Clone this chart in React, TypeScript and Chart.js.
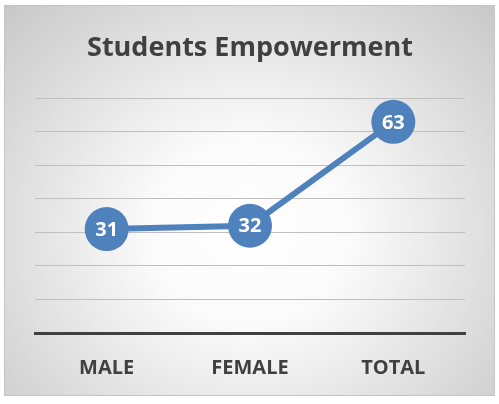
import React, { useEffect, useRef } from "react";
import { Chart, registerables } from "chart.js";

Chart.register(...registerables);

const categories = ["MALE", "FEMALE", "TOTAL"];
const values = [31, 32, 63];
const chartTitle = "Students Empowerment";

const labelPlugin = {
  id: "pointLabels",
  afterDatasetsDraw(chart: any) {
    const ctx = chart.ctx;
    const meta = chart.getDatasetMeta(0);
    ctx.save();
    ctx.fillStyle = "#ffffff";
    ctx.font = "bold 20px 'Open Sans'";
    ctx.textAlign = "center";
    ctx.textBaseline = "middle";
    meta.data.forEach((pt: any, i: number) => {
      ctx.fillText(String(values[i]), pt.x, pt.y + 1);
    });
    ctx.restore();
  },
};

export default function App() {
  const ref = useRef<HTMLCanvasElement>(null);
  useEffect(() => {
    const chart = new Chart(ref.current as HTMLCanvasElement, {
      type: "line",
      data: {
        labels: categories,
        datasets: [
          {
            data: values,
            borderColor: "#4F81BD",
            backgroundColor: "#4F81BD",
            borderWidth: 6,
            pointRadius: 22,
            pointHoverRadius: 22,
            pointBorderWidth: 0,
            pointBackgroundColor: "#4F81BD",
            tension: 0,
          },
        ],
      },
      plugins: [labelPlugin],
      options: {
        responsive: false,
        animation: false,
        layout: { padding: { left: 30, right: 29, top: 0, bottom: 17 } },
        plugins: {
          legend: { display: false },
          tooltip: { enabled: false },
          title: {
            display: true,
            text: chartTitle,
            color: "#404040",
            font: { family: "'Open Sans'", size: 27, weight: "bold" },
            padding: { top: 26, bottom: 34 },
          },
        },
        scales: {
          x: {
            offset: true,
            grid: { display: false, drawTicks: false },
            border: { display: true, color: "#404040", width: 3 },
            ticks: {
              color: "#404040",
              padding: 23,
              maxRotation: 0,
              font: { family: "'Open Sans'", size: 20, weight: "bold" },
            },
            afterFit: (scale: any) => {
              scale.height = 45;
            },
          },
          y: {
            min: 0,
            max: 70,
            ticks: { display: false, stepSize: 10 },
            grid: { color: "#bfbfbf", lineWidth: 1, drawTicks: false },
            border: { display: false },
            afterFit: (scale: any) => {
              scale.width = 0;
            },
          },
        },
      },
    });
    return () => chart.destroy();
  }, []);
  return (
    <div
      style={{
        position: "absolute",
        left: 4,
        top: 5,
        width: 489,
        height: 389,
        border: "1px solid #c4c4c4",
        background:
          "radial-gradient(ellipse farthest-corner at 50% 58%, #ffffff 0%, #fafafa 30%, #c8c8c8 100%)",
      }}
    >
      <canvas ref={ref} width={489} height={389} style={{ display: "block" }} />
    </div>
  );
}
